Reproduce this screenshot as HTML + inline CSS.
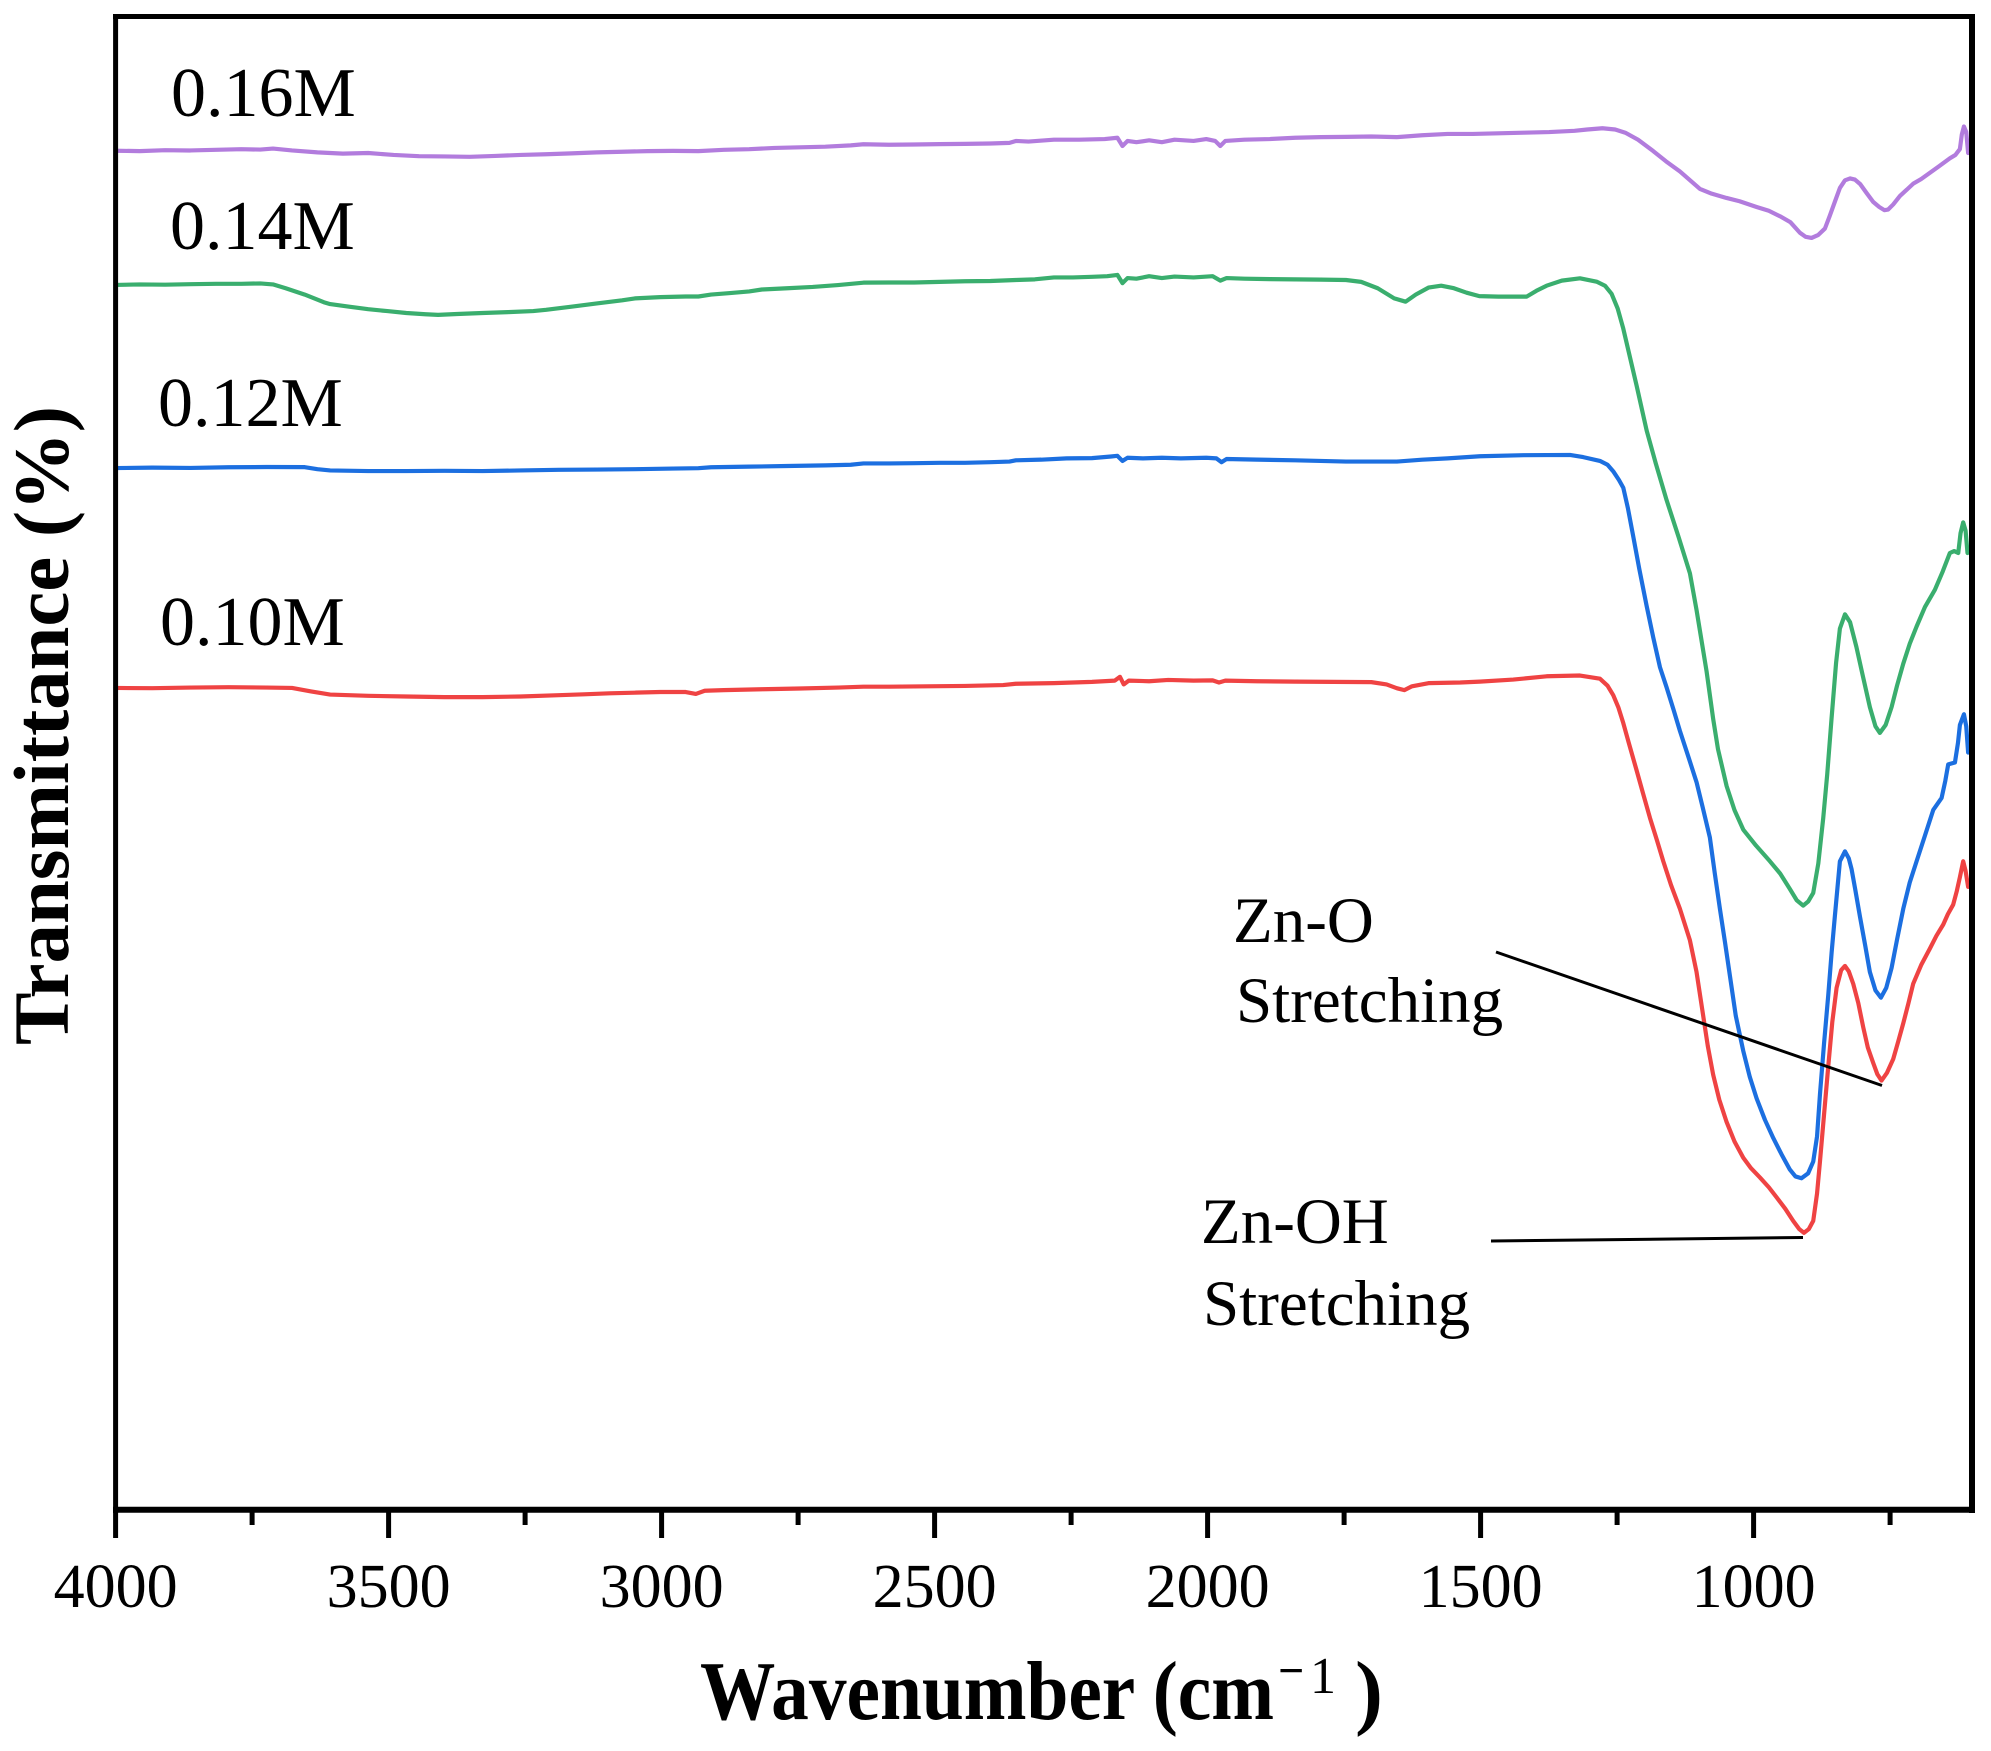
<!DOCTYPE html>
<html><head><meta charset="utf-8"><style>html,body{margin:0;padding:0;background:#fff}svg{display:block}text{font-family:"Liberation Serif","Times New Roman",serif;fill:#000}</style></head>
<body>
<svg width="1991" height="1751" viewBox="0 0 1991 1751" xmlns="http://www.w3.org/2000/svg">
<rect width="1991" height="1751" fill="#fff"/>
<g transform="scale(1.26977)" fill="none" stroke-width="3.3" stroke-linejoin="round" stroke-linecap="round">
<path stroke="#B27CDD" d="M91,118.7 L110,119 L130,118.3 L150,118.5 L170,118 L190,117.5 L205,117.8 L215,117 L230,118.5 L250,120 L270,121 L290,120.5 L310,122 L330,123 L350,123.2 L370,123.5 L390,122.8 L410,122 L430,121.5 L450,120.8 L470,120 L490,119.5 L510,119 L530,118.8 L550,119 L570,118 L590,117.5 L610,116.5 L630,116 L650,115.5 L670,114.5 L680,113.6 L700,114 L720,113.8 L740,113.5 L760,113.3 L780,113 L795,112.5 L800,111 L810,111.5 L830,110 L850,110 L870,109.5 L880,108.5 L884,115 L888,111 L895,112 L905,110.5 L915,112 L925,110 L940,111 L950,109.5 L957,111 L961,115 L965,111 L980,110 L1000,109.5 L1020,108.5 L1040,108 L1060,107.8 L1080,107.5 L1100,108 L1120,106.5 L1140,105.5 L1160,105.5 L1180,105 L1200,104.5 L1220,104 L1240,103 L1250,102 L1262,101 L1272,102 L1280,104.5 L1290,110 L1302,119 L1312,127 L1323,135 L1338.8,148.8 L1348,152.5 L1359.7,155.9 L1370,158.5 L1383.4,163 L1393,166 L1401.8,170.3 L1410,175 L1417.5,183.3 L1422,186.5 L1426.7,187.4 L1432,185 L1437.2,180 L1441,170 L1445,159 L1449,148 L1453,142 L1457,140.5 L1460.8,141.4 L1465,145 L1470,152 L1475.2,159 L1480,163 L1484,165.5 L1487,165 L1491,161 L1496.3,154.3 L1501,150 L1506.7,144.7 L1513,141 L1520,136 L1527,131 L1535.6,124.7 L1540,122 L1543.5,117.4 L1545,106 L1546.7,99.6 L1548.5,104 L1550,120.5"/>
<path stroke="#3AAE6E" d="M91,224.4 L110,224 L130,224.2 L150,223.8 L170,223.5 L190,223.5 L205,223.2 L215,224 L225,227 L240,232 L255,238 L260,239.5 L275,241.5 L290,243.5 L305,245 L320,246.5 L335,247.5 L345,248 L360,247.3 L380,246.5 L400,245.8 L420,245 L430,244 L450,241.5 L470,239 L490,236.5 L500,235 L520,234 L540,233.5 L550,233.5 L560,232 L575,230.8 L590,229.5 L600,228 L620,227 L640,226 L660,224.5 L680,222.6 L700,222.5 L720,222.5 L740,222 L760,221.5 L780,221.3 L800,220.5 L815,220 L830,218.5 L845,218.5 L860,218 L872,217.5 L880,216.5 L884,223 L888,219 L895,219.5 L905,217.5 L915,219 L925,217.8 L940,218.5 L955,217.5 L961,221 L966,219 L980,219.5 L1000,219.8 L1020,220 L1040,220.2 L1060,220.5 L1072,222 L1085,227 L1098,235 L1107,237.6 L1115,232 L1125,226.5 L1135,225 L1145,227 L1155,230.5 L1165,233.2 L1180,233.6 L1195,233.6 L1202.3,233.6 L1210,229 L1218,225 L1230,221 L1244.3,219.2 L1257.4,221.8 L1264,225 L1269.2,231.4 L1274,243 L1278.4,258.8 L1288.9,303.7 L1296.8,339 L1304,365 L1312.5,393.8 L1322,423 L1330.9,451.6 L1336.1,480.4 L1344,528.7 L1349.2,566.2 L1353,590 L1359.8,619.1 L1366,638 L1372.9,653.4 L1383,666 L1393.9,678.3 L1402,688 L1409.6,700.1 L1415,709 L1420.1,713.2 L1424,710 L1428,703.2 L1432,680 L1435.9,644 L1439,610 L1442.4,566.2 L1446,522 L1449,495 L1453,483.8 L1457,490 L1462,509.5 L1467,532 L1472.6,556.9 L1477,572 L1480.5,577.2 L1485,571 L1489.7,556.9 L1494,540 L1498.9,522.7 L1504,507 L1509.4,493.4 L1516,478 L1523.8,464.5 L1530,450 L1535.6,435.5 L1539,434 L1542.2,435.5 L1544,420 L1546.1,411.4 L1548,418 L1549.5,435.5"/>
<path stroke="#1C6FE0" d="M91,368.6 L120,368.3 L150,368.5 L180,368 L210,367.8 L240,367.9 L250,369.5 L260,370.5 L290,371 L320,371 L350,370.8 L380,371 L410,370.5 L440,370 L470,369.8 L500,369.5 L530,369 L550,368.7 L560,368 L590,367.5 L620,367 L650,366.5 L670,366 L680,365 L700,365 L720,364.8 L740,364.5 L760,364.5 L780,364 L795,363.5 L800,362.5 L820,362 L840,361 L860,360.8 L875,359.5 L880,359 L884,363 L888,360.5 L900,361 L915,360.5 L930,361 L950,360.5 L958,361 L962,364 L966,361.5 L990,362 L1020,362.5 L1060,363.5 L1100,363.5 L1120,362 L1140,361 L1165.5,359.3 L1200,358.5 L1236.4,358.3 L1246.8,360 L1260,363 L1266,366 L1270.5,371.2 L1275,378 L1278.4,384.1 L1282,400 L1286.3,422.7 L1291,448 L1296.8,477.2 L1302,502 L1307.3,525.5 L1312.5,541.3 L1318,559 L1323,575.6 L1330,597 L1336.1,616 L1341,636 L1346.6,659.6 L1350.5,688 L1354.5,715.7 L1358.5,742 L1362.4,768.6 L1367,800 L1372.9,827.7 L1378,848 L1383.4,865 L1390,882 L1396.5,896.2 L1403,909 L1409.6,921.1 L1414,926.5 L1418.8,927.9 L1424,924 L1428,914.8 L1431,895 L1433.3,861.9 L1436.5,822 L1439.8,784.1 L1442.5,750 L1445,721.9 L1449,678.3 L1453,670.5 L1456,676 L1458.2,684.5 L1461,700 L1464.8,721.9 L1469,745 L1472.6,765.5 L1477,780 L1481.3,785.7 L1485.5,778 L1489.7,762.3 L1494,740 L1498.9,715.7 L1504,695 L1509.4,678.3 L1516,658 L1522.5,637.9 L1529.1,628.4 L1532,615 L1534.3,602 L1539.6,600.5 L1542,585 L1543.5,571 L1546.7,562.5 L1548.5,572 L1550,592.7"/>
<path stroke="#EF4343" d="M91,541.8 L120,542 L150,541.5 L180,541.2 L210,541.5 L230,541.8 L245,544.5 L260,547 L290,548 L320,548.5 L350,549 L380,549 L410,548.5 L440,547.5 L460,546.8 L480,546 L500,545.5 L520,545 L540,545 L548,546.5 L555,544 L570,543.5 L600,542.8 L630,542.2 L660,541.5 L680,540.8 L700,540.8 L730,540.5 L760,540.2 L790,539.5 L800,538.5 L830,538 L860,537 L878,536 L882,533 L885,539 L889,536 L905,536.5 L920,535.5 L940,536 L955,535.8 L960,537.5 L965,536 L990,536.5 L1020,536.8 L1050,537 L1080,537.2 L1092,539 L1100,542 L1106,543.5 L1112,540.5 L1125,538 L1150,537.5 L1165.5,536.8 L1191.8,535.2 L1218,532.6 L1244.3,532 L1260,534.5 L1266,540 L1270.5,547.5 L1274.5,557 L1278.4,569.4 L1283,586 L1288.9,606.7 L1294,625 L1299.4,644.1 L1305,662 L1309.9,678.3 L1316,697 L1323,715.7 L1330.9,740.6 L1336.1,765.5 L1341.3,799.7 L1345,824 L1349.2,846.4 L1354,866 L1359.8,883.7 L1366,899 L1372.9,911.8 L1379,920 L1386,927.3 L1393,935 L1399.1,942.9 L1406,952 L1412.2,961.5 L1417,968 L1420.7,970.9 L1424.5,968 L1428,961.5 L1431,940 L1433.3,914.8 L1436.5,878 L1439.8,840.2 L1443,805 L1446.4,777.9 L1450,764 L1453,760.7 L1456,765 L1459.5,774.8 L1463.5,790 L1467.4,809.1 L1471,825 L1475.2,837 L1478.5,846 L1481.8,851 L1486,845 L1491,834 L1495,820 L1498.9,805.9 L1503,790 L1506.7,774.8 L1513,760 L1520,746.8 L1525,737 L1530.4,728.1 L1534,720 L1538.2,712.5 L1541,702 L1543.5,690.8 L1546.1,678.3 L1548,686 L1550,698.5"/>
</g>
<!-- annotation lines -->
<line x1="1496" y1="952" x2="1882" y2="1085.5" stroke="#000" stroke-width="3"/>
<line x1="1491" y1="1241" x2="1803" y2="1237.5" stroke="#000" stroke-width="3"/>
<!-- frame -->
<g stroke="#000" fill="none">
<line x1="113" y1="16.5" x2="1975" y2="16.5" stroke-width="5"/>
<line x1="115.6" y1="14" x2="115.6" y2="1513" stroke-width="5"/>
<line x1="1972" y1="14" x2="1972" y2="1513" stroke-width="6"/>
<line x1="113" y1="1509.7" x2="1975" y2="1509.7" stroke-width="6"/>
</g>
<g stroke="#000" stroke-width="5">
<line x1="115.6" y1="1512" x2="115.6" y2="1538"/>
<line x1="252.1" y1="1512" x2="252.1" y2="1525"/>
<line x1="388.6" y1="1512" x2="388.6" y2="1538"/>
<line x1="525.1" y1="1512" x2="525.1" y2="1525"/>
<line x1="661.6" y1="1512" x2="661.6" y2="1538"/>
<line x1="798.1" y1="1512" x2="798.1" y2="1525"/>
<line x1="934.6" y1="1512" x2="934.6" y2="1538"/>
<line x1="1071.1" y1="1512" x2="1071.1" y2="1525"/>
<line x1="1207.6" y1="1512" x2="1207.6" y2="1538"/>
<line x1="1344.1" y1="1512" x2="1344.1" y2="1525"/>
<line x1="1480.6" y1="1512" x2="1480.6" y2="1538"/>
<line x1="1617.1" y1="1512" x2="1617.1" y2="1525"/>
<line x1="1753.6" y1="1512" x2="1753.6" y2="1538"/>
<line x1="1890.1" y1="1512" x2="1890.1" y2="1525"/>
</g>
<g font-size="62" text-anchor="middle">
<text x="115.6" y="1607">4000</text>
<text x="388.6" y="1607">3500</text>
<text x="661.6" y="1607">3000</text>
<text x="934.6" y="1607">2500</text>
<text x="1207.6" y="1607">2000</text>
<text x="1480.6" y="1607">1500</text>
<text x="1753.6" y="1607">1000</text>
</g>
<!-- axis titles -->
<text x="700" y="1719" font-size="84" font-weight="bold" textLength="574" lengthAdjust="spacingAndGlyphs">Wavenumber (cm</text>
<text x="1278" y="1686" font-size="46" font-weight="bold">−</text>
<text x="1310" y="1693" font-size="52">1</text>
<text x="1355" y="1719" font-size="84" font-weight="bold">)</text>
<text transform="translate(68,725.5) rotate(-90)" text-anchor="middle" font-size="78" font-weight="bold" textLength="639" lengthAdjust="spacingAndGlyphs">Transmittance (%)</text>
<!-- series labels -->
<g font-size="70">
<text x="171" y="116">0.16M</text>
<text x="170" y="249">0.14M</text>
<text x="158" y="426">0.12M</text>
<text x="160" y="645">0.10M</text>
</g>
<g font-size="65">
<text x="1233" y="942">Zn-O</text>
<text x="1236" y="1022">Stretching</text>
<text x="1201" y="1243">Zn-OH</text>
<text x="1203" y="1325">Stretching</text>
</g>
</svg>
</body></html>
